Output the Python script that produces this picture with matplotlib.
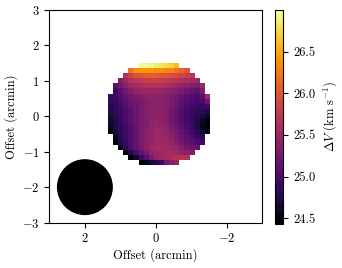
import numpy as np
from matplotlib import pyplot as plt
from matplotlib.patches import Circle

plt.rcParams['font.family'] = 'serif'
plt.rcParams['font.serif'] = ['cmr10']
plt.rcParams['mathtext.fontset'] = 'cm'
plt.rcParams['axes.formatter.use_mathtext'] = True
plt.rcParams['font.size'] = 9

n = np.nan
# velocity map (km/s), row 0 = top, nan = outside the mapped region
row00 = [n]*6 + [26.95, 26.95, 26.9, 26.85, 26.8, 26.75, 26.7, 26.6] + [n]*6
row01 = [n]*4 + [26.2, 26.35, 26.4, 26.4, 26.4, 26.35, 26.35, 26.3, 26.3, 26.2, 26.1, 26.0] + [n]*4
row02 = [n]*3 + [25.65, 25.85, 25.95, 26.0, 26.05, 26.05, 26.05, 26.0, 26.0, 25.95, 25.9, 25.85, 25.8, 25.7] + [n]*3
row03 = [n]*2 + [25.35, 25.5, 25.65, 25.72, 25.75, 25.8, 25.8, 25.8, 25.78, 25.75, 25.72, 25.7, 25.65, 25.6, 25.55, 25.5] + [n]*2
row04 = [n] + [25.1, 25.25, 25.4, 25.5, 25.55, 25.6, 25.62, 25.65, 25.65, 25.62, 25.6, 25.55, 25.5, 25.45, 25.4, 25.35, 25.3, 25.5] + [n]
row05 = [n] + [24.95, 25.1, 25.25, 25.35, 25.45, 25.5, 25.5, 25.5, 25.5, 25.5, 25.45, 25.4, 25.35, 25.3, 25.2, 25.15, 25.1, 25.3] + [n]
row06 = [24.9, 24.95, 25.05, 25.15, 25.25, 25.3, 25.35, 25.4, 25.4, 25.4, 25.4, 25.35, 25.3, 25.25, 25.15, 25.1, 25.05, 25.0, 25.1, 25.55]
row07 = [24.85, 24.9, 25.0, 25.1, 25.2, 25.25, 25.3, 25.35, 25.4, 25.4, 25.4, 25.35, 25.3, 25.2, 25.1, 25.05, 25.0, 24.95, 25.0, 25.2]
row08 = [24.8, 24.85, 24.95, 25.05, 25.15, 25.2, 25.3, 25.35, 25.4, 25.4, 25.4, 25.35, 25.3, 25.2, 25.1, 25.0, 24.95, 24.9, 24.9, 24.95]
row09 = [24.75, 24.85, 24.95, 25.0, 25.1, 25.2, 25.3, 25.35, 25.4, 25.4, 25.4, 25.35, 25.25, 25.15, 25.05, 24.95, 24.9, 24.85, 24.8, 24.75]
row10 = [24.7, 24.8, 24.9, 25.0, 25.1, 25.2, 25.3, 25.35, 25.4, 25.4, 25.4, 25.35, 25.25, 25.15, 25.05, 24.95, 24.9, 24.8, 24.7, 24.6]
row11 = [24.65, 24.75, 24.9, 25.0, 25.1, 25.2, 25.3, 25.35, 25.4, 25.45, 25.4, 25.35, 25.25, 25.15, 25.05, 24.95, 24.85, 24.75, 24.6, 24.5]
row12 = [24.6, 24.75, 24.85, 24.95, 25.05, 25.15, 25.3, 25.35, 25.45, 25.45, 25.45, 25.4, 25.3, 25.2, 25.1, 25.0, 24.9, 24.75, 24.55, 24.45]
row13 = [24.55, 24.7, 24.85, 24.95, 25.05, 25.15, 25.3, 25.4, 25.45, 25.5, 25.5, 25.45, 25.35, 25.25, 25.15, 25.05, 24.95, 24.8, 24.65, 24.55]
row14 = [n] + [24.6, 24.8, 24.95, 25.05, 25.15, 25.3, 25.4, 25.45, 25.5, 25.5, 25.45, 25.4, 25.3, 25.2, 25.1, 25.0, 24.9, 24.8] + [n]
row15 = [n] + [24.5, 24.75, 24.9, 25.05, 25.15, 25.3, 25.4, 25.45, 25.5, 25.5, 25.5, 25.45, 25.35, 25.25, 25.15, 25.1, 25.0, 24.95] + [n]
row16 = [n]*2 + [24.55, 24.8, 25.0, 25.15, 25.3, 25.4, 25.5, 25.55, 25.55, 25.55, 25.5, 25.45, 25.35, 25.25, 25.2, 25.15] + [n]*2
row17 = [n]*3 + [24.45, 24.75, 25.0, 25.15, 25.3, 25.45, 25.5, 25.55, 25.55, 25.55, 25.5, 25.45, 25.4, 25.35] + [n]*3
row18 = [n]*4 + [24.45, 24.65, 24.9, 25.1, 25.3, 25.45, 25.5, 25.55, 25.6, 25.65, 25.7, 25.65] + [n]*4
row19 = [n]*6 + [24.45, 24.55, 24.7, 24.8, 24.9, 25.25, 25.4, 25.45] + [n]*6

dv = np.array([row00, row01, row02, row03, row04, row05, row06, row07, row08, row09,
               row10, row11, row12, row13, row14, row15, row16, row17, row18, row19])

vmin, vmax = 24.43, 27.0
beam_xy = (2.0, -2.0)
beam_r = 0.77

fig = plt.figure(figsize=(3.42, 2.68), dpi=100)
ax = fig.add_axes([0.1447, 0.169, 0.6213, 0.794])
cax = fig.add_axes([0.804, 0.164, 0.024, 0.799])

im = ax.imshow(dv, cmap='inferno', vmin=vmin, vmax=vmax, origin='upper',
               extent=[1.36, -1.51, -1.37, 1.51], interpolation='nearest')
ax.add_patch(Circle(beam_xy, beam_r, color='k'))
ax.set_xlim(3, -3)
ax.set_ylim(-3, 3)
ax.set_aspect('equal')
ax.set_xticks([2, 0, -2])
ax.set_yticks([-3, -2, -1, 0, 1, 2, 3])
ax.set_xlabel('Offset (arcmin)', labelpad=2)
ax.set_ylabel('Offset (arcmin)', labelpad=3)

cb = fig.colorbar(im, cax=cax)
cb.set_ticks([24.5, 25.0, 25.5, 26.0, 26.5])
cb.set_ticklabels(['24.5', '25.0', '25.5', '26.0', '26.5'])
cb.set_label(r'$\Delta V$ (km s$^{-1}$)')

plt.savefig('out.png', dpi=100)
